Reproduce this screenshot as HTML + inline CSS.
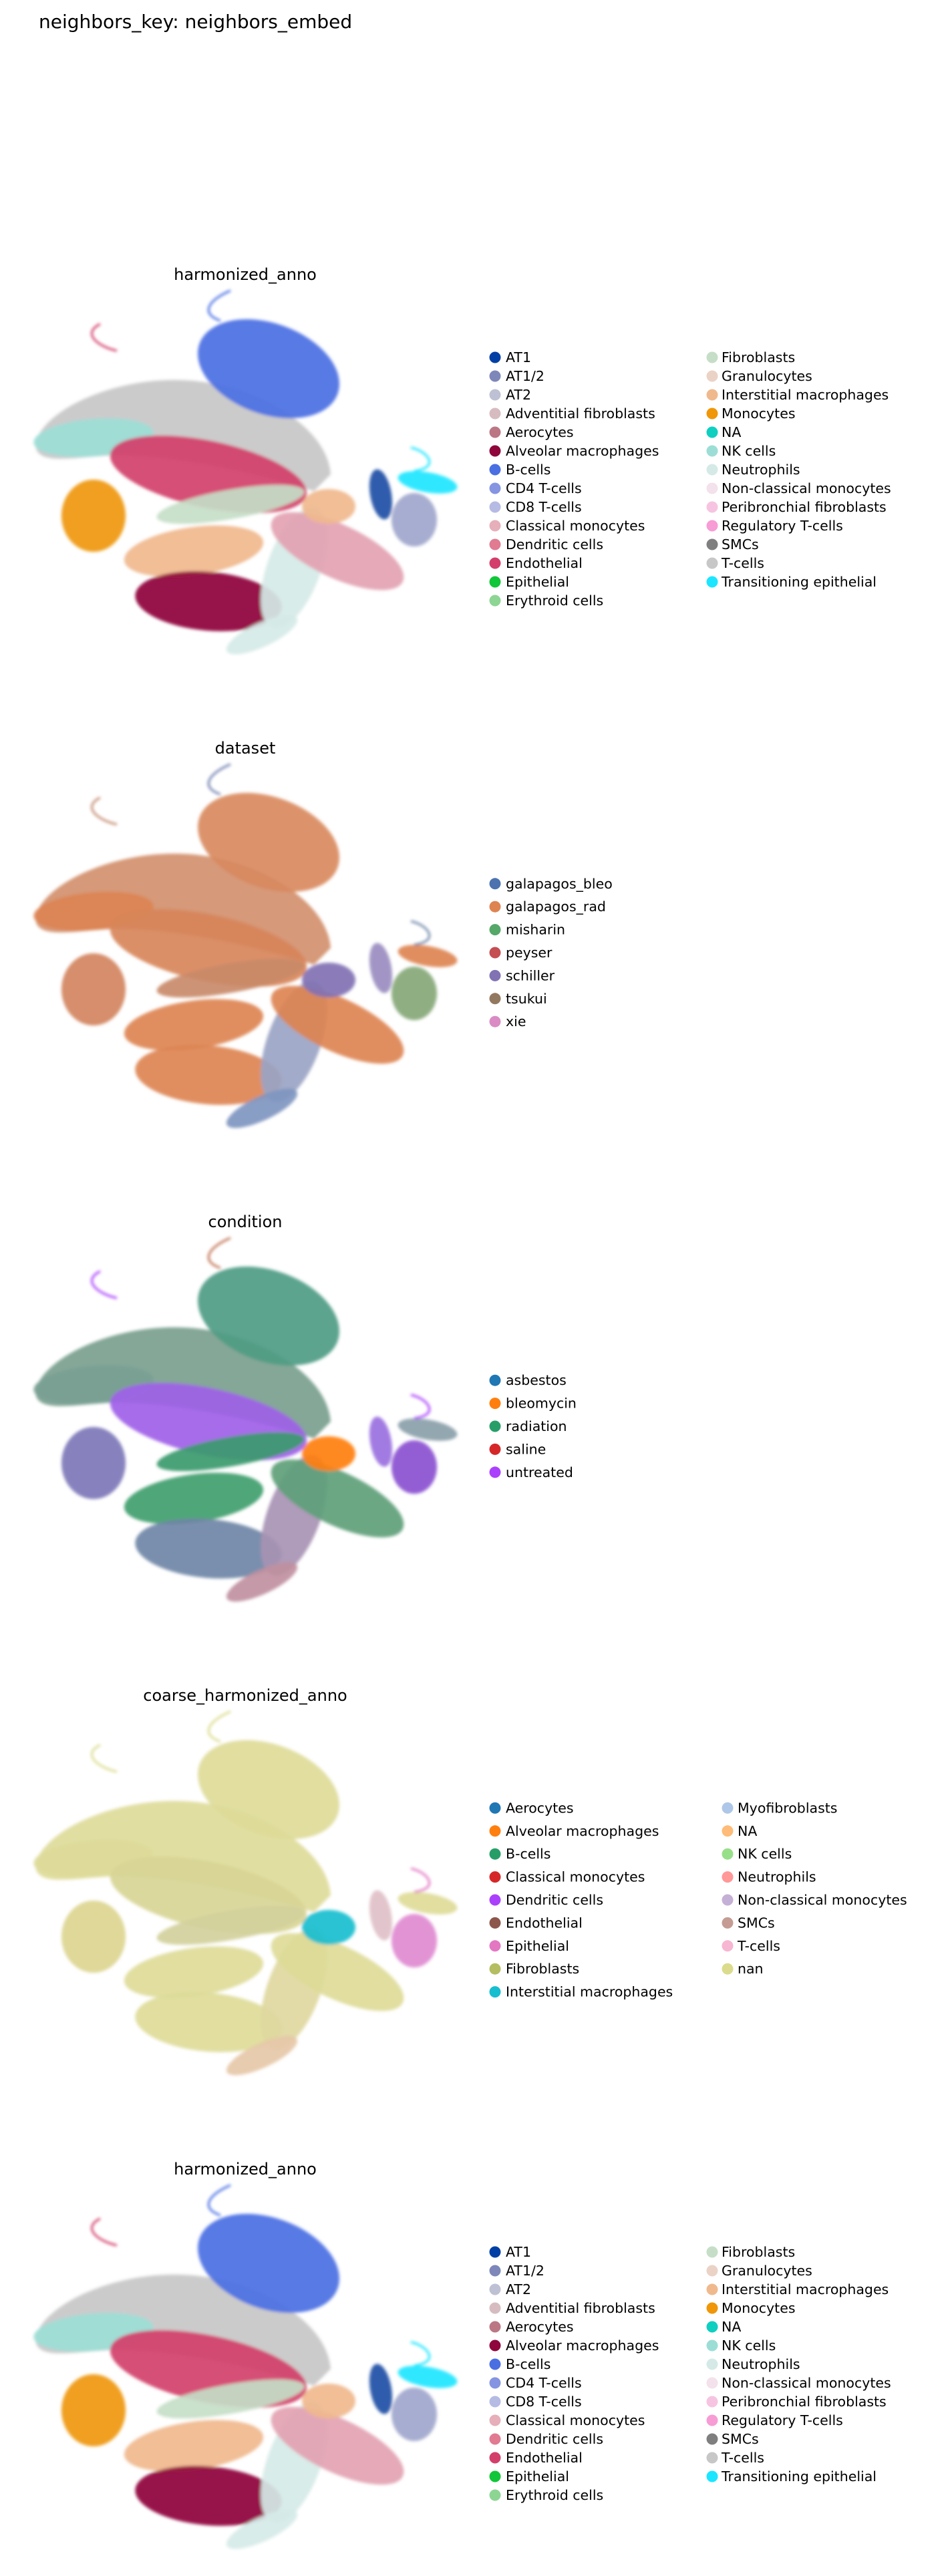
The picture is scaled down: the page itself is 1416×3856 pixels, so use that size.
<!DOCTYPE html>
<html><head><meta charset="utf-8"><style>
html,body{margin:0;padding:0;background:#fff;}
body{width:1416px;height:3856px;position:relative;overflow:hidden;font-family:"DejaVu Sans","Liberation Sans",sans-serif;}
svg{position:absolute;left:0;top:0;}
</style></head><body>
<svg id="fig" width="1416" height="3856" viewBox="0 0 1416 3856">
<defs><filter id="soft" x="-10%" y="-10%" width="120%" height="120%"><feGaussianBlur stdDeviation="2.5"/></filter></defs>
<text x="58" y="42" font-size="28" font-family="DejaVu Sans, sans-serif" fill="#000">neighbors_key: neighbors_embed</text>
</svg>
<script>
const harmonizedCats=["AT1","AT1/2","AT2","Adventitial fibroblasts","Aerocytes","Alveolar macrophages","B-cells","CD4 T-cells","CD8 T-cells","Classical monocytes","Dendritic cells","Endothelial","Epithelial","Erythroid cells","Fibroblasts","Granulocytes","Interstitial macrophages","Monocytes","NA","NK cells","Neutrophils","Non-classical monocytes","Peribronchial fibroblasts","Regulatory T-cells","SMCs","T-cells","Transitioning epithelial"];
const harmonizedColors=["#023fa5","#7d87b9","#bec1d4","#d6bcc0","#bb7784","#8e063b","#4a6fe3","#8595e1","#b5bbe3","#e6afb9","#e07b91","#d33f6a","#11c638","#8dd593","#c6dec7","#ead3c6","#f0b98d","#ef9708","#0fcfc0","#9cded6","#d5eae7","#f3e1eb","#f6c4e1","#f79cd4","#7f7f7f","#c7c7c7","#1ce6ff"];
const datasetCats=["galapagos_bleo","galapagos_rad","misharin","peyser","schiller","tsukui","xie"];
const datasetColors=["#4c72b0","#dd8452","#55a868","#c44e52","#8172b3","#937860","#da8bc3"];
const conditionCats=["asbestos","bleomycin","radiation","saline","untreated"];
const conditionColors=["#1f77b4","#ff7f0e","#279e68","#d62728","#aa40fc"];
const coarseCats=["Aerocytes","Alveolar macrophages","B-cells","Classical monocytes","Dendritic cells","Endothelial","Epithelial","Fibroblasts","Interstitial macrophages","Myofibroblasts","NA","NK cells","Neutrophils","Non-classical monocytes","SMCs","T-cells","nan"];
const coarseColors=["#1f77b4","#ff7f0e","#279e68","#d62728","#aa40fc","#8c564b","#e377c2","#b5bd61","#17becf","#aec7e8","#ffbb78","#98df8a","#ff9896","#c5b0d5","#c49c94","#f7b6d2","#dbdb8d"];
const panelTitles=["harmonized_anno","dataset","condition","coarse_harmonized_anno","harmonized_anno"];

const NS="http://www.w3.org/2000/svg";
const svg=document.getElementById('fig');
function mk(tag,attrs,parent){const e=document.createElementNS(NS,tag);for(const k in attrs)e.setAttribute(k,attrs[k]);(parent||svg).appendChild(e);return e;}

const shapes=[
 ["fan","path","M54 250 C70 200 180 150 290 160 C390 170 490 230 495 300 L470 325 C390 300 260 268 160 272 C110 275 62 285 54 262 Z"],
 ["nk","ell",[140,245,90,28,-5]],
 ["top","ell",[402,142,110,68,20]],
 ["endo","ell",[312,300,150,50,12]],
 ["fibro","ell",[345,345,112,22,-10]],
 ["mono","ell",[140,362,48,54,0]],
 ["interst","ell",[290,415,105,36,-8]],
 ["alv","ell",[312,490,110,44,5]],
 ["neut","ell",[440,440,40,95,20]],
 ["neut2","ell",[392,540,58,18,-25]],
 ["dend","ell",[505,415,108,40,25]],
 ["peach","ell",[492,348,40,26,0]],
 ["at1","ell",[570,330,16,38,-10]],
 ["trans","ell",[640,312,45,15,10]],
 ["loop","ell",[620,368,34,40,0]],
 ["swirl1","path","M150 75 C120 90 150 110 175 115"],
 ["swirl2","path","M345 25 C310 40 300 60 330 70"],
 ["swirl3","path","M620 295 C660 290 640 265 615 260"]
];
const palettes=[
 {fan:"#c7c7c7",nk:"#9cded6",top:"#4a6fe3",endo:"#d33f6a",fibro:"#c6dec7",mono:"#ef9708",interst:"#f0b98d",alv:"#8e063b",neut:"#d5eae7",neut2:"#d5eae7",dend:"#e3a2b2",peach:"#f0b98d",at1:"#1f4fa5",trans:"#1ce6ff",loop:"#a0a6cc",swirl1:"#d33f6a",swirl2:"#4a6fe3",swirl3:"#1ce6ff"},
 {fan:"#d2906c",nk:"#dd8452",top:"#d98a60",endo:"#d8865a",fibro:"#c98a6a",mono:"#d38460",interst:"#dd8452",alv:"#dd8452",neut:"#9aa4c4",neut2:"#7f96c0",dend:"#dd8452",peach:"#8172b3",at1:"#9a8cc0",trans:"#dd8452",loop:"#86a878",swirl1:"#c48a70",swirl2:"#6f7fb0",swirl3:"#7088a8"},
 {fan:"#7aa08e",nk:"#7a9f95",top:"#4f9c84",endo:"#a060e8",fibro:"#3a9a6e",mono:"#7d78b8",interst:"#3f9e6c",alv:"#6f86a6",neut:"#a892b4",neut2:"#c090a0",dend:"#5e9f7a",peach:"#ff7f0e",at1:"#9a70e0",trans:"#8aa0aa",loop:"#8a50d0",swirl1:"#aa40fc",swirl2:"#c07050",swirl3:"#aa40fc"},
 {fan:"#dedb9a",nk:"#dedb9a",top:"#dedb98",endo:"#d8d596",fibro:"#d2d09c",mono:"#dcd590",interst:"#dedb98",alv:"#dedb98",neut:"#e0d8a0",neut2:"#e6c8a8",dend:"#dedb98",peach:"#17becf",at1:"#e0c0c8",trans:"#dedb98",loop:"#e08ad0",swirl1:"#dbdb8d",swirl2:"#dbdb8d",swirl3:"#e377c2"}
];
palettes.push(palettes[0]);
const legends=[[harmonizedCats,harmonizedColors,28,1066,1080],[datasetCats,datasetColors,34.4,0,0],[conditionCats,conditionColors,34.4,0,0],[coarseCats,coarseColors,34.4,1089,1104],[harmonizedCats,harmonizedColors,28,1066,1080]];

for(let p=0;p<5;p++){
 const T=410+709*p;
 const g=mk('g',{transform:'translate(0,'+T+')'});
 
 
 const t=mk('text',{x:367,y:9,'text-anchor':'middle','font-size':24,fill:'#000'},g);
 t.textContent=panelTitles[p];
 
 
 const sg=mk('g',{filter:'url(#soft)'},g);
 
 
 const pal=palettes[p];
 for(const s of shapes){
  let e;
  if(s[1]==='path'){
   const isSwirl=s[0].startsWith('swirl');
   e=mk('path',isSwirl?{d:s[2],fill:'none',stroke:pal[s[0]],'stroke-width':3}:{d:s[2],fill:pal[s[0]],opacity:0.92},sg);
  } else {
   const [cx,cy,rx,ry,r]=s[2];
   e=mk('ellipse',{cx:cx,cy:cy,rx:rx,ry:ry,transform:'rotate('+r+' '+cx+' '+cy+')',fill:pal[s[0]],opacity:0.92},sg);
  }
  
  
 }
 const [cats,cols,sp,x2dot,x2txt]=legends[p];
 const lg=mk('g',{},g);
 
 
 const perCol=cats.length>10?Math.ceil(cats.length/2):cats.length;
 const center=307;
 const y0=center-(perCol-1)*sp/2;
 cats.forEach((c,i)=>{
  const col=Math.floor(i/perCol), row=i%perCol;
  const dx=col?x2dot:741, tx=col?x2txt:757;
  const y=y0+row*sp;
  const eg=mk('g',{},lg);
  
  
  mk('circle',{cx:dx,cy:y,r:8.5,fill:cols[i]},eg);
  const tt=mk('text',{x:tx,y:y+7,'font-size':20.5,fill:'#000'},eg);
  tt.textContent=c;
 });
}
</script>
</body></html>
